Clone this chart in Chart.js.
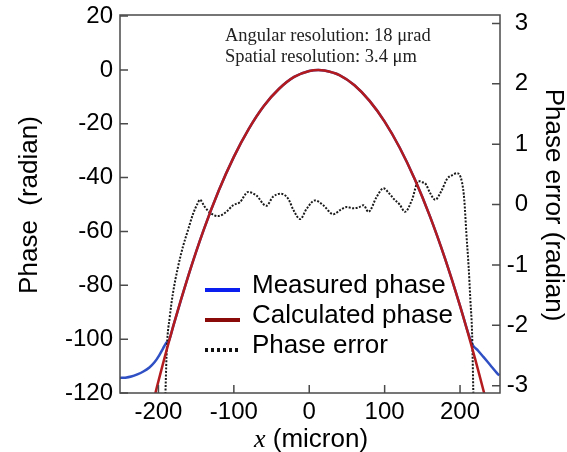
<!DOCTYPE html>
<html>
<head>
<meta charset="utf-8">
<script src="https://cdn.jsdelivr.net/npm/chart.js@4.4.1/dist/chart.umd.min.js"></script>
<style>
  html, body { margin: 0; padding: 0; background: #fff; }
  #wrap { width: 567px; height: 452px; }
</style>
</head>
<body>
<div id="wrap"><canvas id="phaseChart" width="567" height="452"></canvas></div>
<script>
// Values (x in micron)
const calcX = [-252, -240, -220, -200, -180, -160, -140, -120, -100, -80, -60, -40, -20, 0, 12,
  20, 40, 60, 80, 100, 120, 140, 160, 180, 200, 220, 240, 252];
const calcY = [-179.3, -163.3, -138.4, -115.6, -94.8, -76.1, -59.4, -44.8, -32.3, -21.8, -13.3, -7.0, -2.6, -0.4, 0,
  -0.2, -1.9, -5.7, -11.5, -19.2, -28.9, -40.6, -54.3, -70.0, -87.6, -107.3, -128.9, -142.8];

const measX = [-252, -244, -236, -228, -220, -212, -205, -199, -194, -190, -186, -180,
  -160, -140, -120, -100, -80, -60, -40, -20, 0, 12,
  20, 40, 60, 80, 100, 120, 140, 160, 180, 200,
  210, 216, 224, 231, 240, 249, 252];
const measY = [-114.4, -114.3, -113.9, -113.1, -112.0, -110.5, -108.5, -106.0, -103.5, -101.5, -100.5, -94.8,
  -76.1, -59.4, -44.8, -32.3, -21.8, -13.3, -7.0, -2.6, -0.4, 0,
  -0.2, -1.9, -5.7, -11.5, -19.2, -28.9, -40.6, -54.3, -70.0, -87.6,
  -97.0, -101.8, -104.3, -106.6, -109.6, -112.6, -113.5];

const errX = [-191.6, -190.6, -188.8, -185, -180.8, -174, -167.6, -161, -154, -148, -145, -139, -132, -121,
  -110, -101, -92, -81, -70, -57, -48, -38, -28, -21, -12, -3.5, 7.6, 18.6, 32, 41, 50, 58, 65, 72,
  78.5, 89.5, 98.5, 105, 111.7, 120, 127, 136, 145, 150, 154, 160, 167, 175, 183, 190, 196, 202.6,
  205.7, 208.4, 211.4, 213.7, 216, 217.3, 218.3];
const errY = [-3.6, -3.07, -2.36, -1.86, -1.47, -1.03, -0.70, -0.43, -0.15, 0.02, 0.08, -0.03, -0.13, -0.19,
  -0.12, -0.01, 0.04, 0.21, 0.15, -0.02, 0.13, 0.18, 0.10, -0.09, -0.24, -0.07, 0.07, -0.01, -0.16, -0.09, -0.04, -0.06, -0.05, -0.01,
  -0.12, 0.13, 0.27, 0.20, 0.10, 0.0, -0.12, 0.07, 0.39, 0.37, 0.35, 0.20, 0.08, 0.22, 0.43, 0.49, 0.52, 0.37,
  0.07, -0.48, -1.03, -1.58, -2.14, -2.91, -3.6];

const xTicks = [-200, -100, 0, 100, 200];
const phaseTicks = [-120, -100, -80, -60, -40, -20, 0, 20];
const errTicks = [-3, -2, -1, 0, 1, 2, 3];

const legendLabels = ["Measured phase", "Calculated phase", "Phase error"];
const noteLines = ["Angular resolution: 18 \u03bcrad", "Spatial resolution: 3.4 \u03bcm"];

const SANS = '"Liberation Sans", Arial, sans-serif';
const SERIF = '"Liberation Serif", "Times New Roman", serif';
const FRAME = "#4a4a4a";

function pts(xs, ys) {
  return xs.map((x, i) => ({ x: x, y: ys[i] }));
}

// frame, inward ticks, titles, note and legend
const decor = {
  id: "decor",
  afterDraw(chart) {
    const { ctx, chartArea: a, scales } = chart;
    ctx.save();

    ctx.strokeStyle = FRAME;
    ctx.lineWidth = 1.5;
    ctx.beginPath();
    xTicks.forEach((v) => {
      const p = scales.x.getPixelForValue(v);
      ctx.moveTo(p, a.bottom);
      ctx.lineTo(p, a.bottom - 8);
    });
    phaseTicks.forEach((v) => {
      const p = scales.y.getPixelForValue(v);
      ctx.moveTo(a.left, p);
      ctx.lineTo(a.left + 8, p);
    });
    errTicks.forEach((v) => {
      const p = scales.y2.getPixelForValue(v);
      ctx.moveTo(a.right, p);
      ctx.lineTo(a.right - 8, p);
    });
    ctx.stroke();
    ctx.strokeRect(a.left, a.top, a.right - a.left, a.bottom - a.top);

    ctx.fillStyle = "#000";
    ctx.textAlign = "center";
    ctx.textBaseline = "middle";
    ctx.font = "26px " + SANS;

    // left title
    ctx.save();
    ctx.translate(30, 205);
    ctx.rotate(-Math.PI / 2);
    ctx.fillText("Phase  (radian)", 0, 0);
    ctx.restore();

    // right title
    ctx.save();
    ctx.translate(553, 205);
    ctx.rotate(Math.PI / 2);
    ctx.fillText("Phase error (radian)", 0, 0);
    ctx.restore();

    // x title: italic serif x + sans rest
    ctx.textAlign = "left";
    ctx.textBaseline = "alphabetic";
    ctx.font = "italic 26px " + SERIF;
    const wx = ctx.measureText("x").width;
    ctx.font = "26px " + SANS;
    const wr = ctx.measureText(" (micron)").width;
    const x0 = 311 - (wx + wr) / 2;
    ctx.font = "italic 26px " + SERIF;
    ctx.fillText("x", x0, 447);
    ctx.font = "26px " + SANS;
    ctx.fillText(" (micron)", x0 + wx, 447);

    // note
    ctx.font = "18.5px " + SERIF;
    ctx.fillStyle = "#222";
    ctx.fillText(noteLines[0], 225, 41);
    ctx.fillText(noteLines[1], 225, 62);

    // legend
    const ly = [290, 320, 350];
    const lc = ["#0a1ef0", "#8a0a0a", "#111"];
    legendLabels.forEach((t, i) => {
      ctx.beginPath();
      ctx.strokeStyle = lc[i];
      ctx.lineWidth = 4;
      ctx.setLineDash(i === 2 ? [3, 3] : []);
      ctx.moveTo(205, ly[i]);
      ctx.lineTo(240, ly[i]);
      ctx.stroke();
      ctx.setLineDash([]);
      ctx.fillStyle = "#000";
      ctx.font = "26px " + SANS;
      ctx.fillText(t, 252, ly[i] + 3);
    });

    ctx.restore();
  },
};

// small lineHeight keeps the top label from pushing the plot area down
const tickFont = { family: SANS, size: 24, lineHeight: 0.6 };

const ctx = document.getElementById("phaseChart");
const phaseChart = new Chart(ctx, {
  type: "line",
  data: {
    datasets: [
      {
        label: legendLabels[0],
        data: pts(measX, measY),
        borderColor: "#2f4fc4",
        borderWidth: 2.5,
        pointRadius: 0,
        cubicInterpolationMode: "monotone",
        yAxisID: "y",
        order: 3,
      },
      {
        label: legendLabels[1],
        data: pts(calcX, calcY),
        borderColor: "#b31b1f",
        borderWidth: 2.5,
        pointRadius: 0,
        cubicInterpolationMode: "monotone",
        yAxisID: "y",
        order: 1,
      },
      {
        label: legendLabels[2],
        data: pts(errX, errY),
        borderColor: "#1a1a1a",
        borderWidth: 2,
        borderDash: [2, 1.5],
        pointRadius: 0,
        cubicInterpolationMode: "monotone",
        yAxisID: "y2",
        order: 2,
      },
    ],
  },
  options: {
    responsive: false,
    animation: false,
    layout: { padding: { top: 15, right: 39, bottom: 0, left: 0 } },
    plugins: {
      legend: { display: false },
      tooltip: { enabled: false },
    },
    scales: {
      x: {
        type: "linear",
        min: -251,
        max: 253,
        afterBuildTicks: (s) => { s.ticks = xTicks.map((v) => ({ value: v })); },
        afterFit: (s) => { s.height = 59; },
        grid: { display: false, drawTicks: false },
        border: { display: false },
        ticks: { color: "#000", font: { family: SANS, size: 24 }, padding: 5, autoSkip: false, maxRotation: 0 },
      },
      y: {
        type: "linear",
        position: "left",
        min: -120,
        max: 20.4,
        afterBuildTicks: (s) => { s.ticks = phaseTicks.map((v) => ({ value: v })); },
        afterFit: (s) => { s.width = 120; },
        grid: { display: false, drawTicks: false },
        border: { display: false },
        ticks: { color: "#000", font: tickFont, padding: 7, autoSkip: false },
      },
      y2: {
        type: "linear",
        position: "right",
        min: -3.12,
        max: 3.14,
        afterBuildTicks: (s) => { s.ticks = errTicks.map((v) => ({ value: v })); },
        afterFit: (s) => { s.width = 28; },
        grid: { display: false, drawTicks: false },
        border: { display: false },
        ticks: { color: "#000", font: tickFont, crossAlign: "far", autoSkip: false },
      },
    },
  },
  plugins: [decor],
});
</script>
</body>
</html>
